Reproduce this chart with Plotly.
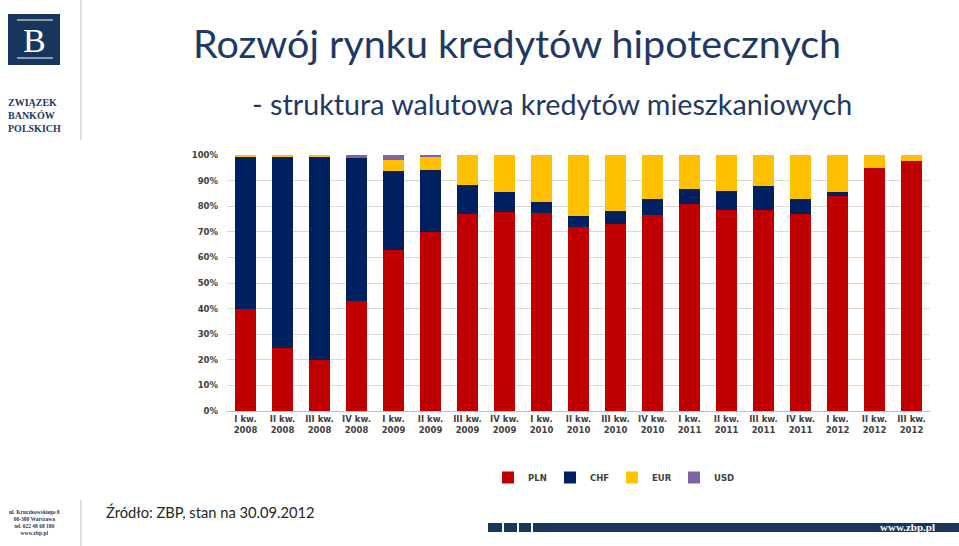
import plotly.graph_objects as go

# --- data (shares of currency in housing loans, %) ---
quarters = [
    "I kw.<br>2008", "II kw.<br>2008", "III kw.<br>2008", "IV kw.<br>2008",
    "I kw.<br>2009", "II kw.<br>2009", "III kw.<br>2009", "IV kw.<br>2009",
    "I kw.<br>2010", "II kw.<br>2010", "III kw.<br>2010", "IV kw.<br>2010",
    "I kw.<br>2011", "II kw.<br>2011", "III kw.<br>2011", "IV kw.<br>2011",
    "I kw.<br>2012", "II kw.<br>2012", "III kw.<br>2012",
]
pln = [40.0, 24.7, 20.0, 43.0, 62.9, 69.9, 77.0, 77.6, 77.2, 72.0,
       73.0, 76.6, 80.7, 78.5, 78.5, 77.1, 84.1, 94.8, 97.7]
chf = [59.3, 74.8, 79.4, 55.9, 31.0, 24.4, 11.3, 8.1, 4.3, 4.2,
       5.1, 6.1, 6.0, 7.3, 9.5, 5.6, 1.3, 0.0, 0.0]
eur = [0.7, 0.5, 0.6, 0.1, 4.0, 4.9, 11.7, 14.3, 18.5, 23.8,
       21.9, 17.3, 13.3, 14.2, 12.0, 17.3, 14.6, 5.2, 2.3]
usd = [0.0, 0.0, 0.0, 1.0, 2.1, 0.8, 0.0, 0.0, 0.0, 0.0,
       0.0, 0.0, 0.0, 0.0, 0.0, 0.0, 0.0, 0.0, 0.0]
y_ticks = [0, 10, 20, 30, 40, 50, 60, 70, 80, 90, 100]
y_labels = ["0%", "10%", "20%", "30%", "40%", "50%", "60%", "70%", "80%", "90%", "100%"]

series = [("PLN", pln, "#C00000"), ("CHF", chf, "#002060"),
          ("EUR", eur, "#FFC000"), ("USD", usd, "#8064A2")]

W, H = 959, 546
L, R, T, B = 227, 930, 155, 411
NAVY = "#1F3864"


def px(x):
    return (x - L) / (R - L)


def py(y):
    return (B - y) / (B - T)


def label(text, x, y, font, xanchor="center", align="center"):
    fig.add_annotation(text=text, x=px(x), y=py(y), xref="paper", yref="paper",
                       showarrow=False, xanchor=xanchor, yanchor="middle",
                       align=align, font=font)


fig = go.Figure()
for name, vals, color in series:
    fig.add_trace(go.Bar(x=quarters, y=vals, name=name, marker_color=color,
                         marker_line_width=0))

fig.update_layout(
    width=W, height=H,
    margin=dict(l=L, r=W - R, t=T, b=H - B, pad=0),
    barmode="stack", barnorm="percent", bargap=0.43,
    plot_bgcolor="white", paper_bgcolor="white",
    font=dict(family="DejaVu Sans", color="#404040"),
    legend=dict(orientation="h", x=px(488), y=py(463), xanchor="left", yanchor="top",
                entrywidth=17, entrywidthmode="pixels", itemwidth=30,
                font=dict(size=8.5, weight="bold", color="#404040"),
                traceorder="normal"),
)
fig.update_xaxes(showgrid=False, showline=True, linecolor="#bfbfbf", linewidth=1,
                 ticks="", tickfont=dict(size=8.5, weight="bold", color="#404040"))
fig.update_yaxes(range=[0, 100], tickvals=y_ticks, ticktext=y_labels, showgrid=True,
                 gridcolor="#d9d9d9", gridwidth=1, zeroline=False, ticks="",
                 ticklabelstandoff=8,
                 tickfont=dict(size=8.5, weight="bold", color="#404040"))

# --- header titles ---
label("Rozwój rynku kredytów hipotecznych", 517, 42,
      dict(family="Lato", size=39.5, color=NAVY))
label("- struktura walutowa kredytów mieszkaniowych", 552, 104,
      dict(family="Lato", size=28.7, color=NAVY))

# --- logo ---
fig.add_shape(type="rect", xref="paper", yref="paper", x0=px(8), x1=px(60),
              y0=py(65), y1=py(14), fillcolor="#17365D", line_width=0)
for y0 in (20, 58):
    fig.add_shape(type="line", xref="paper", yref="paper", x0=px(17), x1=px(53),
                  y0=py(y0), y1=py(y0), line=dict(color="white", width=1.2))
label("B", 35, 40, dict(family="Liberation Serif", size=34, color="white"))
label("ZWIĄZEK<br>BANKÓW<br>POLSKICH", 34, 115,
      dict(family="Liberation Serif", size=10, color=NAVY, weight="bold"), align="left")
for y0, y1 in ((0, 140), (500, 546)):
    fig.add_shape(type="line", xref="paper", yref="paper", x0=px(81), x1=px(81),
                  y0=py(y0), y1=py(y1), line=dict(color="#bfbfbf", width=1))

# --- footer ---
label("ul. Kruczkowskiego 8<br>00-380 Warszawa<br>tel. 022 48 68 180<br>www.zbp.pl", 35, 522,
      dict(family="Liberation Serif", size=5.5, color=NAVY, weight="bold"))
label("Źródło: ZBP, stan na 30.09.2012", 104, 512,
      dict(family="Lato", size=14.7, color="#262626"), xanchor="left")
for x0, x1 in ((488, 502), (504, 517), (519, 531), (533, 959)):
    fig.add_shape(type="rect", xref="paper", yref="paper", x0=px(x0), x1=px(x1),
                  y0=py(532), y1=py(523), fillcolor="#17365D", line_width=0)
label("www.zbp.pl", 937, 527,
      dict(family="Liberation Serif", size=11, color="white", weight="bold"), xanchor="right")

fig.write_html("out.html", config={"displayModeBar": False},
               post_script="document.body.style.margin='0px';")
